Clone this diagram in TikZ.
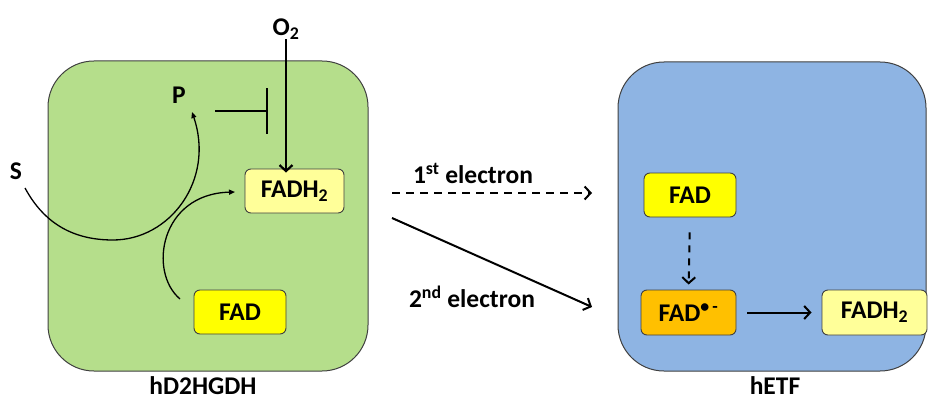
\documentclass[tikz,border=0pt]{standalone}
\usepackage{fontspec}
\setmainfont{Carlito}
\usetikzlibrary{arrows.meta}
\definecolor{gbox}{RGB}{181,222,139}
\definecolor{bbox}{RGB}{142,180,227}
\definecolor{lyel}{RGB}{255,255,153}
\definecolor{yelc}{RGB}{255,255,0}
\definecolor{orgc}{RGB}{255,192,0}
\definecolor{edge}{RGB}{64,64,64}
\begin{document}
\begin{tikzpicture}[x=1pt,y=-1pt,
  font=\bfseries\fontsize{25.5}{29}\selectfont,
  every node/.style={inner sep=0pt},
  enzyme/.style={draw=edge, line width=1pt, rounded corners=46pt},
  fbox/.style={draw=edge, line width=0.9pt, rounded corners=6pt, minimum height=44pt},
  barb/.style={-{Straight Barb[length=6pt,width=13pt]}},
  curv/.style={line width=1.3pt, -{Triangle[length=6pt,width=5pt]}},
  dsh/.style={dash pattern=on 8pt off 6pt}]
\useasboundingbox (0,0) rectangle (928,401);
% enzyme boxes
\draw[enzyme, fill=gbox] (48,61) rectangle (368,371);
\draw[enzyme, fill=bbox] (618,62) rectangle (926,371);
% left side
\node (O2) at (286,29) {O\textsubscript{2}};
\node (P) at (179,95) {P};
\node (S) at (16,171) {S};
\node[fbox, fill=lyel, minimum width=99pt] (fadh) at (294.5,191) {FADH\textsubscript{2}};
\node[fbox, fill=yelc, minimum width=92pt] (fad) at (240,312) {FAD};
\node[anchor=base] (lab1) at (203,394) {hD2HGDH};
% middle labels
\node (e1) at (473,173) {1\textsuperscript{st} electron};
\node (e2) at (472,297) {2\textsuperscript{nd} electron};
% right side
\node[fbox, fill=yelc, minimum width=92pt] (rfad) at (690,195) {FAD};
\node[fbox, fill=orgc, minimum width=95pt, minimum height=45pt] (rad) at (688.5,312.5) {FAD\textsuperscript{•\,-}};
\node[fbox, fill=lyel, minimum width=105pt, minimum height=45pt] (rfadh) at (874.5,312.5) {FADH\textsubscript{2}};
\node[anchor=base] (lab2) at (775,394) {hETF};
% coordinates
\coordinate (sS) at (25,188);
\coordinate (sP) at (192,112);
\coordinate (fS) at (180,299);
\coordinate (fE) at (235,192);
\coordinate (ih1) at (215,111);
\coordinate (ih2) at (268,111);
\coordinate (d1s) at (392,193);
\coordinate (d1e) at (592,193);
\coordinate (d2s) at (392,218);
\coordinate (d2e) at (592,307);
% connectors left
\draw[curv] (sS) .. controls (45,225) and (75,240) .. (113,240)
  .. controls (170,240) and (215,180) .. (sP);
\draw[curv] (fS) .. controls (148,272) and (160,194) .. (fE);
\draw[line width=2.2pt, barb] (O2.south) -- ([yshift=-4pt]O2.south |- fadh.north);
\draw[line width=2.2pt, -{Bar[width=45pt]}] (ih1) -- (ih2);
% middle
\draw[line width=2pt, dsh, barb] (d1s) -- (d1e);
\draw[line width=2pt, barb] (d2s) -- (d2e);
% right
\draw[line width=2pt, dash pattern=on 7pt off 6pt, barb, shorten <=15pt, shorten >=5pt] (rfad.south) -- (rad.north);
\draw[line width=2pt, barb, shorten <=11pt, shorten >=10pt] (rad.east) -- (rfadh.west);
\end{tikzpicture}
\end{document}
